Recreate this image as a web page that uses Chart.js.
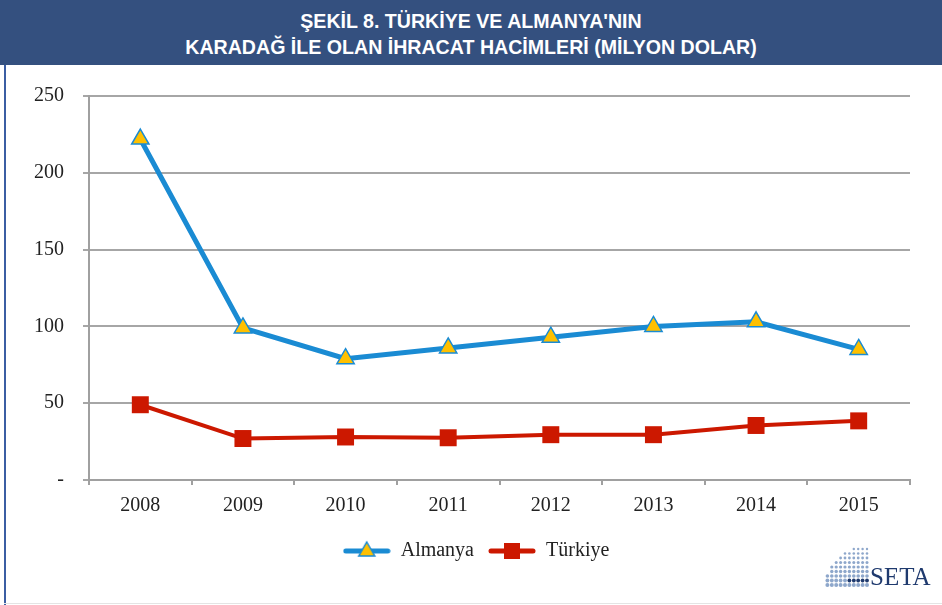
<!DOCTYPE html>
<html>
<head>
<meta charset="utf-8">
<script src="https://cdn.jsdelivr.net/npm/chart.js@4.4.1/dist/chart.umd.min.js"></script>
<style>
  html, body { margin: 0; padding: 0; background: #fff; }
  #page { position: relative; width: 942px; height: 605px; overflow: hidden; }
  #banner {
    position: absolute; left: 0; top: 0; width: 942px; height: 65px;
    background: #34507f; color: #fff; text-align: center;
    font-family: "Liberation Sans Narrow", "Liberation Sans", sans-serif;
    font-weight: bold; font-size: 19.6px; line-height: 26px; padding-top: 8px; box-sizing: border-box;
  }
  #leftline { position: absolute; left: 4px; top: 65px; width: 2px; height: 540px; background: #3b5ea3; }
  #bottomline { position: absolute; left: 4px; top: 603px; width: 938px; height: 1px; background: #e4e4e4; }
  #wrap { position: absolute; left: 0; top: 65px; width: 942px; height: 540px; }
  #logo { position: absolute; left: 820px; top: 540px; width: 122px; height: 60px; }
</style>
</head>
<body>
<div id="page">
  <div id="banner">ŞEKİL 8. TÜRKİYE VE ALMANYA'NIN<br>KARADAĞ İLE OLAN İHRACAT HACİMLERİ (MİLYON DOLAR)</div>
  <div id="leftline"></div>
  <div id="bottomline"></div>
  <div id="wrap"><canvas id="line-chart"></canvas></div>
  <canvas id="logo" width="122" height="60"></canvas>
</div>
<script>
// Line chart
// ------------------------------
const years = ["2008", "2009", "2010", "2011", "2012", "2013", "2014", "2015"];
const almanyaData = [222, 99, 79, 86, 93, 100, 103, 85];
const turkiyeData = [49, 27, 28, 27.5, 29.5, 29.5, 35.5, 38.5];
const yTicks = [0, 50, 100, 150, 200, 250];

const blue = '#1a8bd3';
const yellow = '#ffc000';
const red = '#cc1800';

// legend symbol: short line with marker in the middle
function legendSymbol(color, kind) {
    var c = document.createElement('canvas');
    c.width = 48; c.height = 22;
    var g = c.getContext('2d');
    g.strokeStyle = color;
    g.lineWidth = 5;
    g.lineCap = 'round';
    g.beginPath(); g.moveTo(3, 11); g.lineTo(45, 11); g.stroke();
    if (kind === 'triangle') {
        g.fillStyle = yellow; g.lineWidth = 1.5;
        g.beginPath(); g.moveTo(24, 2); g.lineTo(32, 16); g.lineTo(16, 16); g.closePath();
        g.fill(); g.stroke();
    } else {
        g.fillStyle = color;
        g.fillRect(16, 3, 16, 16);
    }
    return c;
}

// the original legend sits a little right of centre
var legendShift = {
    id: 'legendShift',
    afterLayout: function (chart) {
        if (chart.legend) {
            chart.legend.left += 21;
            chart.legend.right += 21;
        }
    }
};

var ctx = document.getElementById('line-chart');

var chartData = {
    labels: years,
    datasets: [{
        label: 'Almanya',
        data: almanyaData,
        borderColor: blue,
        borderWidth: 5,
        pointStyle: 'triangle',
        pointRadius: 10,
        pointBackgroundColor: yellow,
        pointBorderColor: blue,
        pointBorderWidth: 1.5,
        legendImg: legendSymbol(blue, 'triangle')
    }, {
        label: 'Türkiye',
        data: turkiyeData,
        borderColor: red,
        borderWidth: 4,
        pointStyle: 'rect',
        pointRadius: 12,
        pointBackgroundColor: red,
        pointBorderColor: red,
        pointBorderWidth: 0,
        legendImg: legendSymbol(red, 'rect')
    }]
};

var chartOptions = {
    responsive: true,
    maintainAspectRatio: false,
    animation: false,
    layout: { padding: { left: 0, right: 32, top: 28, bottom: 34 } },
    plugins: {
        tooltip: { enabled: false },
        legend: {
            position: 'bottom',
            labels: {
                usePointStyle: true,
                pointStyleWidth: 48,
                padding: 14,
                color: '#222',
                font: { family: 'Liberation Serif', size: 20 },
                generateLabels: function (chart) {
                    return chart.data.datasets.map(function (ds, i) {
                        return {
                            text: ds.label,
                            pointStyle: ds.legendImg,
                            fillStyle: ds.borderColor,
                            strokeStyle: ds.borderColor,
                            lineWidth: 0,
                            fontColor: '#222',
                            datasetIndex: i
                        };
                    });
                }
            }
        }
    },
    scales: {
        x: {
            offset: true,
            grid: { offset: true, drawOnChartArea: false, drawTicks: true, tickLength: 5, color: '#a0a0a0', lineWidth: 2 },
            border: { color: '#a0a0a0', width: 2 },
            ticks: { color: '#222', padding: 9, font: { family: 'Liberation Serif', size: 20 } }
        },
        y: {
            min: 0,
            max: 250,
            afterFit: function (axis) { axis.width = 89; },
            afterBuildTicks: function (axis) { axis.ticks = yTicks.map(function (v) { return { value: v }; }); },
            grid: { color: '#a6a6a6', lineWidth: 2, tickLength: 6 },
            border: { color: '#a0a0a0', width: 2 },
            ticks: {
                color: '#222',
                padding: 19,
                font: { family: 'Liberation Serif', size: 20 },
                callback: function (v) { return v === 0 ? '-' : v; }
            }
        }
    }
};

var lineChart = new Chart(ctx, { type: 'line', data: chartData, options: chartOptions, plugins: [legendShift] });

// SETA logo
var lg = document.getElementById('logo').getContext('2d');
for (var row = 0; row < 9; row++) {
    var yy = 9 + row * 4.5;
    var n = Math.round(1 + 9 * Math.sqrt(1 - Math.pow((8 - row) / 8.5, 2)));
    for (var k = 0; k < n; k++) {
        var xx = 47 - k * 4.4;
        lg.fillStyle = (row === 7 && k < 5) ? '#1f3a6e' : '#8ea7cb';
        lg.beginPath(); lg.arc(xx, yy, 1.2 + row * 0.1, 0, Math.PI * 2); lg.fill();
    }
}
lg.fillStyle = '#1f3a6e';
lg.font = '25px "Liberation Serif"';
lg.fillText('SETA', 50, 45);
</script>
</body>
</html>
